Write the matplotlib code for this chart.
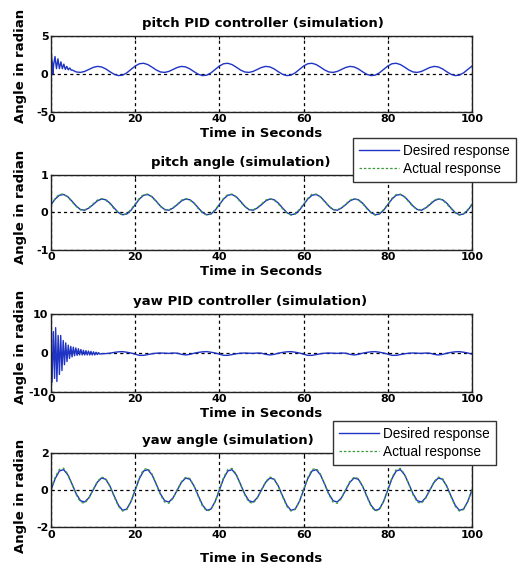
import numpy as np
import matplotlib
matplotlib.use('Agg')
import matplotlib.pyplot as plt
from matplotlib.lines import Line2D

plt.rcParams['font.family'] = ['DejaVu Sans']
plt.rcParams['axes.unicode_minus'] = False

# ---------------- data ----------------
t_sec = np.arange(0, 101, 1)  # 0 .. 100 s, 1 s step

# pitch PID controller: fast transient (key points) then slow response
pitch_pid_early_t = [0.0, 0.05, 0.2, 0.35, 0.42, 0.65, 0.95, 1.3, 1.65, 2.0, 2.35, 2.7,
                     3.05, 3.4, 3.75, 4.1, 4.45, 4.8]
pitch_pid_early_v = [0.0, 3.0, 1.8, 1.4, 0.0, 1.3, 2.3, 0.7, 2.0, 0.7, 1.6, 0.7,
                     1.3, 0.6, 1.0, 0.55, 0.8, 0.5]
pitch_pid_late_v = [0.53, 0.27, 0.21, 0.34, 0.60, 0.86, 1.00, 0.93, 0.67, 0.30, -0.04, -0.21, -0.15, 0.15, 0.60,
                    1.05, 1.35, 1.41, 1.24, 0.90, 0.53, 0.27, 0.21, 0.34, 0.60, 0.86, 1.00, 0.93, 0.67, 0.30, -0.04, -0.21, -0.15, 0.15, 0.60,
                    1.05, 1.35, 1.41, 1.24, 0.90, 0.53, 0.27, 0.21, 0.34, 0.60, 0.86, 1.00, 0.93, 0.67, 0.30, -0.04, -0.21, -0.15, 0.15, 0.60,
                    1.05, 1.35, 1.41, 1.24, 0.90, 0.53, 0.27, 0.21, 0.34, 0.60, 0.86, 1.00, 0.93, 0.67, 0.30, -0.04, -0.21, -0.15, 0.15, 0.60,
                    1.05, 1.35, 1.41, 1.24, 0.90, 0.53, 0.27, 0.21, 0.34, 0.60, 0.86, 1.00, 0.93, 0.67, 0.30, -0.04, -0.21, -0.15, 0.15, 0.60,
                    1.05]

# pitch angle: desired and actual response
pitch_desired = [0.21, 0.36, 0.46, 0.48, 0.42, 0.30, 0.17, 0.08, 0.06, 0.12, 0.21, 0.31, 0.36, 0.34, 0.25, 0.12, 0.00, -0.06, -0.04, 0.06,
                 0.21, 0.36, 0.46, 0.48, 0.42, 0.30, 0.17, 0.08, 0.06, 0.12, 0.21, 0.31, 0.36, 0.34, 0.25, 0.12, 0.00, -0.06, -0.04, 0.06,
                 0.21, 0.36, 0.46, 0.48, 0.42, 0.30, 0.17, 0.08, 0.06, 0.12, 0.21, 0.31, 0.36, 0.34, 0.25, 0.12, 0.00, -0.06, -0.04, 0.06,
                 0.21, 0.36, 0.46, 0.48, 0.42, 0.30, 0.17, 0.08, 0.06, 0.12, 0.21, 0.31, 0.36, 0.34, 0.25, 0.12, 0.00, -0.06, -0.04, 0.06,
                 0.21, 0.36, 0.46, 0.48, 0.42, 0.30, 0.17, 0.08, 0.06, 0.12, 0.21, 0.31, 0.36, 0.34, 0.25, 0.12, 0.00, -0.06, -0.04, 0.06,
                 0.21]
pitch_actual = [0.20, 0.38, 0.49, 0.49, 0.41, 0.28, 0.16, 0.07, 0.07, 0.13, 0.23, 0.33, 0.37, 0.33, 0.23, 0.10, -0.01, -0.07, -0.03, 0.08,
                0.23, 0.38, 0.48, 0.49, 0.41, 0.29, 0.16, 0.07, 0.07, 0.13, 0.22, 0.33, 0.37, 0.33, 0.24, 0.10, -0.01, -0.07, -0.03, 0.08,
                0.22, 0.38, 0.48, 0.49, 0.41, 0.28, 0.16, 0.07, 0.07, 0.13, 0.23, 0.33, 0.37, 0.33, 0.23, 0.10, -0.01, -0.07, -0.03, 0.08,
                0.23, 0.38, 0.49, 0.49, 0.41, 0.29, 0.16, 0.07, 0.07, 0.13, 0.22, 0.33, 0.37, 0.33, 0.24, 0.10, -0.01, -0.07, -0.03, 0.08,
                0.22, 0.38, 0.48, 0.49, 0.41, 0.28, 0.16, 0.07, 0.07, 0.13, 0.23, 0.33, 0.37, 0.33, 0.23, 0.10, -0.01, -0.07, -0.03, 0.08,
                0.23]

# yaw PID controller: fast transient (key points) then small response
yaw_pid_early_t = [0.0, 0.25, 0.55, 0.85, 1.1, 1.4, 1.7, 2.0, 2.3, 2.6, 2.9, 3.2, 3.5, 3.8,
                   4.1, 4.4, 4.7, 5.0, 5.3, 5.6, 5.9, 6.2, 6.5, 6.8, 7.1, 7.4, 7.7, 8.0,
                   8.3, 8.6, 8.9, 9.2, 9.5, 9.8, 10.1, 10.4, 10.7, 11.0, 11.3, 11.6]
yaw_pid_early_v = [0.0, -7.5, 5.5, -6.5, 6.5, -7.3, 4.5, -5.5, 4.5, -4.5, 3.2, -3.0, 2.6, -2.2,
                   2.0, -1.4, 1.7, -1.0, 1.5, -0.7, 1.3, -0.6, 1.1, -0.5, 0.9, -0.5, 0.7, -0.5,
                   0.6, -0.5, 0.5, -0.5, 0.4, -0.5, 0.3, -0.5, 0.2, -0.4, 0.1, -0.3]
yaw_pid_late_v = [-0.20, -0.15, -0.05, 0.15, 0.30, 0.35, 0.20, 0.00,
                  -0.30, -0.60, -0.60, -0.40, -0.20, -0.05, 0.00, -0.05, -0.10, 0.00, -0.05, -0.35, -0.50, -0.35, -0.05, 0.15, 0.30, 0.35, 0.20, 0.00,
                  -0.30, -0.60, -0.60, -0.40, -0.20, -0.05, 0.00, -0.05, -0.10, 0.00, -0.05, -0.35, -0.50, -0.35, -0.05, 0.15, 0.30, 0.35, 0.20, 0.00,
                  -0.30, -0.60, -0.60, -0.40, -0.20, -0.05, 0.00, -0.05, -0.10, 0.00, -0.05, -0.35, -0.50, -0.35, -0.05, 0.15, 0.30, 0.35, 0.20, 0.00,
                  -0.30, -0.60, -0.60, -0.40, -0.20, -0.05, 0.00, -0.05, -0.10, 0.00, -0.05, -0.35, -0.50, -0.35, -0.05, 0.15, 0.30, 0.35, 0.20, 0.00,
                  -0.30]

# yaw angle: desired and actual response
yaw_desired = [0.00, 0.62, 1.03, 1.10, 0.82, 0.32, -0.21, -0.58, -0.65, -0.42, 0.00, 0.42, 0.65, 0.58, 0.21, -0.32, -0.82, -1.10, -1.03, -0.62,
               0.00, 0.62, 1.03, 1.10, 0.82, 0.32, -0.21, -0.58, -0.65, -0.42, 0.00, 0.42, 0.65, 0.58, 0.21, -0.32, -0.82, -1.10, -1.03, -0.62,
               0.00, 0.62, 1.03, 1.10, 0.82, 0.32, -0.21, -0.58, -0.65, -0.42, 0.00, 0.42, 0.65, 0.58, 0.21, -0.32, -0.82, -1.10, -1.03, -0.62,
               0.00, 0.62, 1.03, 1.10, 0.82, 0.32, -0.21, -0.58, -0.65, -0.42, 0.00, 0.42, 0.65, 0.58, 0.21, -0.32, -0.82, -1.10, -1.03, -0.62,
               0.00, 0.62, 1.03, 1.10, 0.82, 0.32, -0.21, -0.58, -0.65, -0.42, 0.00, 0.42, 0.65, 0.58, 0.21, -0.32, -0.82, -1.10, -1.03, -0.62,
               0.00]
yaw_actual = [0.05, 0.70, 1.12, 1.18, 0.86, 0.30, -0.26, -0.66, -0.72, -0.45, 0.02, 0.46, 0.70, 0.62, 0.20, -0.36, -0.88, -1.14, -1.06, -0.63,
              0.03, 0.68, 1.11, 1.17, 0.86, 0.31, -0.26, -0.66, -0.72, -0.45, 0.02, 0.46, 0.70, 0.62, 0.20, -0.36, -0.88, -1.14, -1.06, -0.63,
              0.03, 0.68, 1.11, 1.17, 0.86, 0.31, -0.26, -0.66, -0.72, -0.45, 0.02, 0.46, 0.70, 0.62, 0.20, -0.36, -0.88, -1.14, -1.06, -0.63,
              0.03, 0.68, 1.11, 1.17, 0.86, 0.31, -0.26, -0.66, -0.72, -0.45, 0.02, 0.46, 0.70, 0.62, 0.20, -0.36, -0.88, -1.14, -1.06, -0.63,
              0.03, 0.68, 1.11, 1.17, 0.86, 0.31, -0.26, -0.66, -0.72, -0.45, 0.02, 0.46, 0.70, 0.62, 0.20, -0.36, -0.88, -1.14, -1.06, -0.63,
              0.03]

titles = ['pitch PID controller (simulation)', 'pitch angle (simulation)',
          'yaw PID controller (simulation)', 'yaw angle (simulation)']
x_ticks = [0, 20, 40, 60, 80, 100]
y_ticks = [[-5, 0, 5], [-1, 0, 1], [-10, 0, 10], [-2, 0, 2]]
legend_labels = ['Desired response', 'Actual response']

# ---------------- styling ----------------
W, H = 518, 569
BLUE = '#1f33c4'
GREEN = '#3a9a3a'

fig = plt.figure(figsize=(W / 100, H / 100), dpi=100)

# axes boxes in pixels: (left, top, right, bottom)
boxes = [(51, 36, 472, 112), (51, 175, 472, 250), (51, 314, 472, 392), (51, 453, 472, 527)]
title_centers = [263, 241, 250, 228]   # pixel x of title centres
axes = []
for (l, t, r, b) in boxes:
    ax = fig.add_axes([l / W, 1 - b / H, (r - l) / W, (b - t) / H])
    axes.append(ax)

for i, ax in enumerate(axes):
    l, t, r, b = boxes[i]
    ax.set_xlim(0, 100)
    ax.set_ylim(y_ticks[i][0], y_ticks[i][-1])
    ax.set_xticks(x_ticks)
    ax.set_yticks(y_ticks[i])
    ax.tick_params(direction='in', length=2.5, top=True, right=True, labelsize=8, pad=1.8, width=0.8)
    for lab in ax.get_xticklabels() + ax.get_yticklabels():
        lab.set_fontweight('bold')
    ax.grid(True, color='black', linestyle=(0, (2.5, 2.5)), linewidth=0.9)
    for s in ax.spines.values():
        s.set_linewidth(1.0)
        s.set_color('#222222')
    ax.set_title(titles[i], fontsize=9.5, fontweight='bold', pad=6.5,
                 x=(title_centers[i] - l) / (r - l), ha='center')
    ax.set_xlabel('Time in Seconds', fontsize=9.5, fontweight='bold', labelpad=1.5 if i < 3 else 9)
    ax.set_ylabel('Angle in radian', fontsize=9.5, fontweight='bold')

# ylabel positions
ylab_centers = [0.6, 0.58, 0.58, 0.42]
for ax, yc in zip(axes, ylab_centers):
    ax.yaxis.set_label_coords(-0.056, yc)

# panel 1
ax = axes[0]
ax.plot(pitch_pid_early_t + list(t_sec[5:]), pitch_pid_early_v + pitch_pid_late_v,
        color=BLUE, linewidth=1.0)
# panel 2
ax = axes[1]
ax.plot(t_sec, pitch_desired, color=BLUE, linewidth=1.0)
ax.plot(t_sec, pitch_actual, color=GREEN, linewidth=0.9, linestyle=(0, (2, 2)))
# panel 3
ax = axes[2]
ax.plot(yaw_pid_early_t + list(t_sec[12:]), yaw_pid_early_v + yaw_pid_late_v,
        color=BLUE, linewidth=1.0)
# panel 4
ax = axes[3]
ax.plot(t_sec, yaw_desired, color=BLUE, linewidth=1.0)
ax.plot(t_sec, yaw_actual, color=GREEN, linewidth=0.9, linestyle=(0, (2, 2)))

handles = [Line2D([], [], color=BLUE, linewidth=1.0),
           Line2D([], [], color=GREEN, linewidth=0.9, linestyle=(0, (2, 1.5)))]
leg_pos = [(353, 138), (333, 421)]
for ax, (lx, ly) in zip([axes[1], axes[3]], leg_pos):
    leg = ax.legend(handles, legend_labels, loc='upper left',
                    bbox_to_anchor=(lx / W, 1 - ly / H), bbox_transform=fig.transFigure,
                    borderaxespad=0, fancybox=False, framealpha=1, edgecolor='#333333',
                    handlelength=2.9, handletextpad=0.35, borderpad=0.45, labelspacing=0.25,
                    prop={'family': 'Liberation Sans', 'size': 9.8})
    leg.get_frame().set_linewidth(1.0)
    leg.set_zorder(10)

fig.savefig('out.png', dpi=100)
